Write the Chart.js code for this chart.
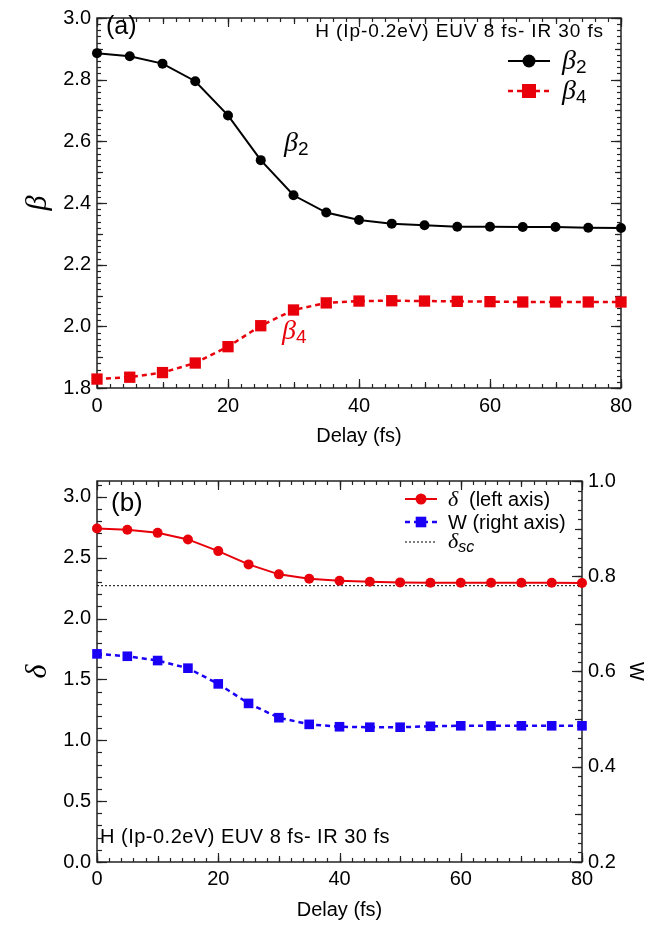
<!DOCTYPE html>
<html>
<head>
<meta charset="utf-8">
<script src="https://cdn.jsdelivr.net/npm/chart.js@4"></script>
<style>
  html, body { margin: 0; padding: 0; background: #fff; }
  #wrapA { position: absolute; left: 0; top: 0; width: 652px; height: 460px; }
  #wrapB { position: absolute; left: 0; top: 460px; width: 652px; height: 468px; }
</style>
</head>
<body>
<div id="wrapA"><canvas id="chartA"></canvas></div>
<div id="wrapB"><canvas id="chartB"></canvas></div>
<script>
// === DATA === //
const delays = [0, 5, 10, 15, 20, 25, 30, 35, 40, 45, 50, 55, 60, 65, 70, 75, 80];
const beta2 = [2.886, 2.876, 2.852, 2.795, 2.684, 2.539, 2.425, 2.369, 2.345, 2.333, 2.328, 2.323, 2.323, 2.322, 2.322, 2.320, 2.319];
const beta4 = [1.829, 1.835, 1.850, 1.881, 1.934, 2.002, 2.053, 2.076, 2.082, 2.083, 2.082, 2.081, 2.080, 2.079, 2.079, 2.079, 2.079];
const delta = [2.740, 2.729, 2.704, 2.650, 2.554, 2.445, 2.363, 2.327, 2.310, 2.302, 2.297, 2.294, 2.294, 2.294, 2.294, 2.294, 2.292];
const wValues = [0.637, 0.632, 0.623, 0.607, 0.574, 0.533, 0.503, 0.489, 0.484, 0.483, 0.483, 0.485, 0.486, 0.486, 0.486, 0.486, 0.486];
const deltaSc = 2.27;

const xTicks = [0, 20, 40, 60, 80];
const betaTicks = [1.8, 2.0, 2.2, 2.4, 2.6, 2.8, 3.0];
const deltaTicks = [0, 0.5, 1.0, 1.5, 2.0, 2.5, 3.0];
const wTicks = [0.2, 0.4, 0.6, 0.8, 1.0];

const SANS = '"Liberation Sans", Arial, Helvetica, sans-serif';
const SERIF = '"Liberation Serif", "Times New Roman", serif';
const RED = '#e8000a';
const BLUE = '#1a00f5';

const pts = (ys) => delays.map((d, i) => ({ x: d, y: ys[i] }));
const setTicks = (vals) => (scale) => { scale.ticks = vals.map((v) => ({ value: v })); };

// inward tick marks on the frame
function inTicks(ctx, chart, id, sides, lo, hi, marks) {
  const s = chart.scales[id], a = chart.chartArea;
  marks.forEach(([step, len]) => {
    const n = Math.round((hi - lo) / step);
    for (let i = 0; i <= n; i++) {
      const p = Math.round(s.getPixelForValue(lo + i * step)) + 0.5;
      sides.forEach((side) => {
        ctx.beginPath();
        if (side === 'bottom') { ctx.moveTo(p, a.bottom); ctx.lineTo(p, a.bottom - len); }
        if (side === 'top') { ctx.moveTo(p, a.top); ctx.lineTo(p, a.top + len); }
        if (side === 'left') { ctx.moveTo(a.left, p); ctx.lineTo(a.left + len, p); }
        if (side === 'right') { ctx.moveTo(a.right, p); ctx.lineTo(a.right - len, p); }
        ctx.stroke();
      });
    }
  });
}

function frame(ctx, a) {
  ctx.strokeStyle = '#222';
  ctx.lineWidth = 1.5;
  ctx.strokeRect(a.left, a.top, a.right - a.left, a.bottom - a.top);
}

function sample(ctx, x1, x2, y, color, dash, lw, style, r) {
  ctx.save();
  ctx.strokeStyle = color;
  ctx.fillStyle = color;
  ctx.lineWidth = lw;
  ctx.setLineDash(dash);
  ctx.beginPath(); ctx.moveTo(x1, y); ctx.lineTo(x2, y); ctx.stroke();
  ctx.setLineDash([]);
  const cx = (x1 + x2) / 2;
  if (style === 'circle') { ctx.beginPath(); ctx.arc(cx, y, r, 0, Math.PI * 2); ctx.fill(); }
  if (style === 'rect') { ctx.fillRect(cx - r, y - r, 2 * r, 2 * r); }
  ctx.restore();
}

function subText(ctx, x, y, main, mainFont, sub, subFont, color, dx, dy) {
  ctx.save();
  ctx.fillStyle = color;
  ctx.textBaseline = 'alphabetic';
  ctx.textAlign = 'left';
  ctx.font = mainFont;
  ctx.fillText(main, x, y);
  const w = ctx.measureText(main).width;
  ctx.font = subFont;
  ctx.fillText(sub, x + w + dx, y + dy);
  ctx.restore();
}

const axisBase = {
  border: { display: false },
  grid: { display: false, drawTicks: false },
};
const tickFont = { family: SANS, size: 20 };

// === PANEL (a) === //
const decorA = {
  id: 'decorA',
  beforeDatasetsDraw(chart) {
    const ctx = chart.ctx, a = chart.chartArea;
    ctx.save();
    frame(ctx, a);
    ctx.lineWidth = 1.2;
    inTicks(ctx, chart, 'x', ['bottom', 'top'], 0, 80, [[2, 4], [10, 6], [20, 9]]);
    inTicks(ctx, chart, 'y', ['left', 'right'], 1.8, 3.0, [[0.02, 4], [0.1, 6], [0.2, 10]]);
    ctx.restore();
  },
  afterDraw(chart) {
    const ctx = chart.ctx;
    ctx.save();
    ctx.fillStyle = '#000';
    ctx.font = '25px ' + SANS;
    ctx.textBaseline = 'alphabetic';
    ctx.fillText('(a)', 106, 34);
    ctx.font = '19px ' + SANS;
    ctx.textAlign = 'right';
    ctx.letterSpacing = '0.9px';
    ctx.fillText('H (Ip-0.2eV) EUV 8 fs- IR 30 fs', 604, 37);
    ctx.letterSpacing = '0px';
    ctx.restore();
    sample(ctx, 508, 550, 61, '#000', [], 2, 'circle', 6.5);
    sample(ctx, 508, 550, 91, RED, [5, 4], 2.5, 'rect', 7);
    subText(ctx, 562, 69, 'β', 'italic 28px ' + SERIF, '2', '19px ' + SANS, '#000', 0, 4);
    subText(ctx, 562, 99, 'β', 'italic 28px ' + SERIF, '4', '19px ' + SANS, '#000', 0, 4);
    subText(ctx, 284, 151, 'β', 'italic 28px ' + SERIF, '2', '19px ' + SANS, '#000', 0, 4);
    subText(ctx, 282, 339, 'β', 'italic 28px ' + SERIF, '4', '19px ' + SANS, RED, 0, 4);
  },
};

new Chart(document.getElementById('chartA'), {
  type: 'line',
  data: {
    datasets: [
      {
        label: 'β2',
        data: pts(beta2),
        borderColor: '#000',
        backgroundColor: '#000',
        borderWidth: 2,
        pointStyle: 'circle',
        pointRadius: 5,
        pointBorderWidth: 0,
        clip: false,
      },
      {
        label: 'β4',
        data: pts(beta4),
        borderColor: RED,
        backgroundColor: RED,
        borderWidth: 2.5,
        borderDash: [5, 4],
        pointStyle: 'rect',
        pointRadius: 8,
        pointBorderWidth: 0,
        clip: false,
      },
    ],
  },
  options: {
    responsive: true,
    maintainAspectRatio: false,
    animation: false,
    layout: { padding: { top: 7, right: 31, left: 0, bottom: 0 } },
    plugins: { legend: { display: false }, tooltip: { enabled: false } },
    scales: {
      x: {
        ...axisBase,
        type: 'linear',
        min: 0,
        max: 80,
        afterBuildTicks: setTicks(xTicks),
        afterFit: (s) => { s.height = 72; },
        ticks: { color: '#000', font: tickFont, padding: 6, maxRotation: 0 },
        title: { display: true, text: 'Delay (fs)', color: '#000', font: { family: SANS, size: 20 }, padding: { top: 0, bottom: 12 } },
      },
      y: {
        ...axisBase,
        type: 'linear',
        min: 1.8,
        max: 3.0,
        afterBuildTicks: setTicks(betaTicks),
        afterFit: (s) => { s.width = 97; },
        ticks: { color: '#000', font: tickFont, padding: 6, callback: (v) => v.toFixed(1) },
        title: { display: true, text: 'β', color: '#000', font: { family: SERIF, size: 30, style: 'italic' }, padding: { top: 20, bottom: 0 } },
      },
    },
  },
  plugins: [decorA],
});

// === PANEL (b) === //
const decorB = {
  id: 'decorB',
  beforeDatasetsDraw(chart) {
    const ctx = chart.ctx, a = chart.chartArea;
    ctx.save();
    frame(ctx, a);
    ctx.lineWidth = 1.2;
    inTicks(ctx, chart, 'x', ['bottom', 'top'], 0, 80, [[2, 4], [10, 6], [20, 9]]);
    inTicks(ctx, chart, 'y', ['left'], 0, 3.1, [[0.1, 5], [0.5, 10]]);
    inTicks(ctx, chart, 'y1', ['right'], 0.2, 1.0, [[0.02, 4], [0.1, 7], [0.2, 10]]);
    ctx.restore();
  },
  afterDraw(chart) {
    const ctx = chart.ctx;
    ctx.save();
    ctx.fillStyle = '#000';
    ctx.textBaseline = 'alphabetic';
    ctx.font = '26px ' + SANS;
    ctx.fillText('(b)', 111, 51);
    ctx.font = '20px ' + SANS;
    ctx.letterSpacing = '0.5px';
    ctx.fillText('H (Ip-0.2eV) EUV 8 fs- IR 30 fs', 100, 383);
    ctx.letterSpacing = '0px';
    ctx.restore();
    sample(ctx, 405, 437, 39, RED, [], 2, 'circle', 5.5);
    sample(ctx, 405, 437, 62, BLUE, [5, 4], 2.5, 'rect', 5.3);
    sample(ctx, 405, 436, 82, '#000', [2, 2], 1, 'none', 0);
    ctx.save();
    ctx.fillStyle = '#000';
    ctx.textBaseline = 'alphabetic';
    ctx.font = 'italic 22px ' + SERIF;
    ctx.fillText('δ', 448, 46);
    ctx.font = '20px ' + SANS;
    ctx.fillText('(left axis)', 469, 46);
    ctx.fillText('W (right axis)', 448, 69);
    ctx.restore();
    subText(ctx, 448, 88, 'δ', 'italic 22px ' + SERIF, 'sc', 'italic 16px ' + SANS, '#000', 0, 4);
  },
};

new Chart(document.getElementById('chartB'), {
  type: 'line',
  data: {
    datasets: [
      {
        label: 'δ (left axis)',
        data: pts(delta),
        yAxisID: 'y',
        borderColor: RED,
        backgroundColor: RED,
        borderWidth: 2,
        pointStyle: 'circle',
        pointRadius: 5,
        pointBorderWidth: 0,
        clip: false,
      },
      {
        label: 'W (right axis)',
        data: pts(wValues),
        yAxisID: 'y1',
        borderColor: BLUE,
        backgroundColor: BLUE,
        borderWidth: 2.5,
        borderDash: [5, 4],
        pointStyle: 'rect',
        pointRadius: 6.8,
        pointBorderWidth: 0,
        clip: false,
      },
      {
        label: 'δsc',
        data: [{ x: delays[0], y: deltaSc }, { x: delays[delays.length - 1], y: deltaSc }],
        yAxisID: 'y',
        borderColor: '#000',
        borderWidth: 1,
        borderDash: [2, 2],
        pointRadius: 0,
      },
    ],
  },
  options: {
    responsive: true,
    maintainAspectRatio: false,
    animation: false,
    layout: { padding: { top: 21, right: 0, left: 0, bottom: 0 } },
    plugins: { legend: { display: false }, tooltip: { enabled: false } },
    scales: {
      x: {
        ...axisBase,
        type: 'linear',
        min: 0,
        max: 80,
        afterBuildTicks: setTicks(xTicks),
        afterFit: (s) => { s.height = 66; },
        ticks: { color: '#000', font: tickFont, padding: 5, maxRotation: 0 },
        title: { display: true, text: 'Delay (fs)', color: '#000', font: { family: SANS, size: 20 }, padding: { top: 0, bottom: 6 } },
      },
      y: {
        ...axisBase,
        type: 'linear',
        position: 'left',
        min: 0,
        max: 3.13,
        afterBuildTicks: setTicks(deltaTicks),
        afterFit: (s) => { s.width = 97; },
        ticks: { color: '#000', font: tickFont, padding: 6, callback: (v) => v.toFixed(1) },
        title: { display: true, text: 'δ', color: '#000', font: { family: SERIF, size: 30, style: 'italic' }, padding: { top: 20, bottom: 0 } },
      },
      y1: {
        ...axisBase,
        type: 'linear',
        position: 'right',
        min: 0.2,
        max: 1.0,
        afterBuildTicks: setTicks(wTicks),
        afterFit: (s) => { s.width = 70; },
        ticks: { color: '#000', font: tickFont, padding: 6, callback: (v) => v.toFixed(1) },
        title: { display: true, text: 'W', color: '#000', font: { family: SANS, size: 20 }, padding: { top: 4, bottom: 0 } },
      },
    },
  },
  plugins: [decorB],
});
</script>
</body>
</html>
